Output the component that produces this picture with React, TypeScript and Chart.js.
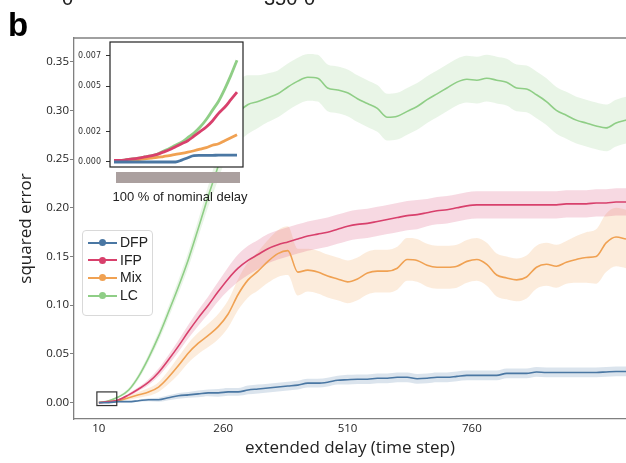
import React, { useEffect, useRef } from "react";
import { Chart, registerables } from "chart.js";

Chart.register(...registerables);

// ---------------- main panel data ----------------
const steps = [10, 30, 50, 70, 90, 110, 130, 150, 170, 190, 210, 230, 250, 270, 290, 310, 330, 350, 370, 390, 410, 430, 450, 470, 490, 510, 530, 550, 570, 590, 610, 630, 650, 670, 690, 710, 730, 750, 770, 790, 810, 830, 850, 870, 890, 910, 930, 950, 970, 990, 1010, 1030, 1050, 1070];

const dfpMean = [0.000, 0.000, 0.001, 0.001, 0.002, 0.003, 0.003, 0.005, 0.007, 0.008, 0.009, 0.010, 0.010, 0.011, 0.011, 0.013, 0.014, 0.015, 0.016, 0.017, 0.018, 0.020, 0.020, 0.021, 0.023, 0.0235, 0.024, 0.024, 0.025, 0.025, 0.026, 0.026, 0.0245, 0.025, 0.026, 0.026, 0.027, 0.028, 0.028, 0.028, 0.028, 0.030, 0.030, 0.030, 0.0315, 0.031, 0.031, 0.031, 0.031, 0.031, 0.031, 0.0315, 0.032, 0.032];
const dfpStd = [0, 0, 0.0005, 0.0008, 0.001, 0.0015, 0.002, 0.0025, 0.003, 0.003, 0.0035, 0.0035, 0.004, 0.004, 0.004, 0.0045, 0.0045, 0.0045, 0.0045, 0.0045, 0.0045, 0.0045, 0.0045, 0.0045, 0.0045, 0.005, 0.005, 0.005, 0.005, 0.005, 0.005, 0.005, 0.005, 0.005, 0.005, 0.005, 0.005, 0.005, 0.005, 0.005, 0.005, 0.005, 0.005, 0.005, 0.005, 0.005, 0.005, 0.005, 0.005, 0.005, 0.005, 0.005, 0.005, 0.005];

const ifpMean = [0.000, 0.001, 0.003, 0.008, 0.014, 0.021, 0.031, 0.044, 0.058, 0.073, 0.087, 0.100, 0.114, 0.127, 0.138, 0.146, 0.152, 0.158, 0.162, 0.165, 0.168, 0.171, 0.173, 0.175, 0.178, 0.181, 0.183, 0.184, 0.186, 0.188, 0.190, 0.192, 0.193, 0.195, 0.197, 0.198, 0.200, 0.202, 0.203, 0.203, 0.203, 0.203, 0.203, 0.203, 0.203, 0.203, 0.203, 0.204, 0.204, 0.204, 0.205, 0.205, 0.206, 0.206];
const ifpStd = [0, 0.0005, 0.001, 0.0015, 0.002, 0.003, 0.004, 0.005, 0.006, 0.007, 0.008, 0.009, 0.010, 0.012, 0.014, 0.015, 0.015, 0.015, 0.015, 0.015, 0.015, 0.015, 0.015, 0.015, 0.015, 0.015, 0.015, 0.015, 0.015, 0.015, 0.015, 0.015, 0.015, 0.014, 0.014, 0.014, 0.014, 0.014, 0.014, 0.014, 0.014, 0.014, 0.014, 0.014, 0.014, 0.014, 0.014, 0.014, 0.014, 0.014, 0.014, 0.014, 0.014, 0.014];

const mixMean = [0.000, 0.001, 0.002, 0.005, 0.008, 0.011, 0.016, 0.026, 0.038, 0.051, 0.061, 0.069, 0.078, 0.091, 0.111, 0.126, 0.135, 0.145, 0.153, 0.156, 0.134, 0.136, 0.134, 0.130, 0.127, 0.124, 0.127, 0.133, 0.135, 0.135, 0.138, 0.147, 0.146, 0.141, 0.139, 0.139, 0.140, 0.145, 0.147, 0.142, 0.131, 0.128, 0.126, 0.129, 0.139, 0.142, 0.140, 0.144, 0.147, 0.149, 0.150, 0.164, 0.170, 0.168];
const mixStd = [0, 0.0005, 0.001, 0.002, 0.003, 0.004, 0.005, 0.007, 0.009, 0.010, 0.011, 0.012, 0.013, 0.014, 0.016, 0.018, 0.020, 0.022, 0.024, 0.025, 0.024, 0.022, 0.022, 0.022, 0.022, 0.022, 0.022, 0.022, 0.022, 0.022, 0.022, 0.022, 0.022, 0.022, 0.022, 0.022, 0.022, 0.022, 0.022, 0.022, 0.022, 0.022, 0.022, 0.022, 0.022, 0.022, 0.022, 0.022, 0.024, 0.026, 0.028, 0.030, 0.030, 0.030];

const lcMean = [0.000, 0.002, 0.006, 0.013, 0.027, 0.046, 0.068, 0.093, 0.119, 0.147, 0.179, 0.212, 0.243, 0.276, 0.297, 0.306, 0.309, 0.313, 0.317, 0.324, 0.330, 0.334, 0.333, 0.323, 0.321, 0.318, 0.312, 0.307, 0.302, 0.293, 0.294, 0.299, 0.304, 0.311, 0.317, 0.323, 0.329, 0.332, 0.331, 0.333, 0.331, 0.329, 0.323, 0.322, 0.316, 0.309, 0.300, 0.295, 0.290, 0.287, 0.284, 0.282, 0.287, 0.290];
const lcStd = [0, 0.0005, 0.001, 0.002, 0.003, 0.004, 0.005, 0.006, 0.007, 0.008, 0.009, 0.011, 0.014, 0.020, 0.030, 0.030, 0.027, 0.025, 0.024, 0.024, 0.024, 0.024, 0.024, 0.024, 0.024, 0.024, 0.024, 0.024, 0.024, 0.024, 0.024, 0.024, 0.024, 0.024, 0.024, 0.024, 0.024, 0.024, 0.024, 0.024, 0.024, 0.024, 0.024, 0.024, 0.024, 0.024, 0.024, 0.024, 0.024, 0.024, 0.024, 0.024, 0.024, 0.024];

const xTicks = [10, 260, 510, 760];
const yTicks = [0, 0.05, 0.1, 0.15, 0.2, 0.25, 0.3, 0.35];

// ---------------- inset data ----------------
const insetSteps = [10, 12, 14, 16, 18, 20, 22, 24, 26, 28, 30, 32, 34, 36, 38, 40, 42, 44, 46, 48, 50];
const insetDfp = [0, 0, 0, 0, 0, 0, 0, 0, 0, 0, 0, 0.00012, 0.00028, 0.00042, 0.00043, 0.00044, 0.00044, 0.00045, 0.00045, 0.00045, 0.00045];
const insetDfpStd = [0, 0, 0, 0, 0, 0, 0, 0, 0, 0, 0.0001, 0.00025, 0.0003, 0.00035, 0.00035, 0.00035, 0.00035, 0.00035, 0.00035, 0.00035, 0.00035];
const insetIfp = [0.0001, 0.0001, 0.00015, 0.0002, 0.00026, 0.00033, 0.0004, 0.0005, 0.00065, 0.0008, 0.001, 0.0012, 0.0014, 0.0017, 0.002, 0.0023, 0.0027, 0.0032, 0.0036, 0.0041, 0.0046];
const insetIfpStd = [0, 0, 0, 0, 0.00002, 0.00003, 0.00004, 0.00005, 0.00006, 0.00007, 0.00008, 0.00009, 0.0001, 0.00011, 0.00012, 0.00013, 0.00015, 0.00017, 0.00019, 0.00021, 0.00023];
const insetMix = [0.00005, 0.00007, 0.0001, 0.00013, 0.00016, 0.0002, 0.00025, 0.0003, 0.00036, 0.00042, 0.0005, 0.00057, 0.00065, 0.00074, 0.00084, 0.00095, 0.0011, 0.0012, 0.0014, 0.0016, 0.0018];
const insetMixStd = [0, 0, 0, 0, 0, 0.00002, 0.00003, 0.00004, 0.00005, 0.00006, 0.00007, 0.00008, 0.00009, 0.0001, 0.00011, 0.00012, 0.00013, 0.00014, 0.00015, 0.00016, 0.00017];
const insetLc = [0.0001, 0.0001, 0.00015, 0.0002, 0.00026, 0.00033, 0.0004, 0.0005, 0.0007, 0.00088, 0.0011, 0.0013, 0.0016, 0.0019, 0.0023, 0.0028, 0.0034, 0.004, 0.0048, 0.0057, 0.0067];
const insetLcStd = [0, 0, 0, 0.00002, 0.00003, 0.00004, 0.00005, 0.00006, 0.00008, 0.0001, 0.00012, 0.00014, 0.00017, 0.0002, 0.00024, 0.00028, 0.00033, 0.0004, 0.00047, 0.00055, 0.00065];
const insetYTicks = [0, 0.002, 0.005, 0.007];
const insetRegionX = [6, 46];
const insetRegionY = [-0.003, 0.011];

const seriesNames = ["DFP", "IFP", "Mix", "LC"];
const lineColors = ["#4a77a3", "#d8406c", "#f0a152", "#8fce86"];
const bandColors = ["rgba(74,119,163,0.2)", "rgba(216,64,108,0.2)", "rgba(240,161,82,0.2)", "rgba(143,206,134,0.2)"];
const abovePanelLabels = ["0", "350", "0"];
const panelLetter = "b";
const insetCaption = "100 % of nominal delay";

const spineColor = "#808080";
const tickColor = "#222";

function buildDatasets(xs: number[], means: number[][], stds: number[][], lineWidth: number) {
  const lines: any[] = means.map((m, i) => ({
    label: seriesNames[i],
    data: xs.map((x, j) => ({ x, y: m[j] })),
    borderColor: lineColors[i],
    borderWidth: lineWidth,
    pointRadius: 0,
    fill: false,
    cubicInterpolationMode: "monotone",
    order: 0,
  }));
  const bands: any[] = [];
  means.forEach((m, i) => {
    const lowerIndex = lines.length + bands.length;
    bands.push({
      label: seriesNames[i] + " low",
      data: xs.map((x, j) => ({ x, y: m[j] - stds[i][j] })),
      borderColor: "rgba(0,0,0,0)",
      borderWidth: 1,
      pointRadius: 0,
      fill: false,
      cubicInterpolationMode: "monotone",
      order: 1,
    });
    bands.push({
      label: seriesNames[i] + " high",
      data: xs.map((x, j) => ({ x, y: m[j] + stds[i][j] })),
      borderColor: "rgba(0,0,0,0)",
      borderWidth: 1,
      pointRadius: 0,
      fill: lowerIndex,
      backgroundColor: bandColors[i],
      cubicInterpolationMode: "monotone",
      order: 1,
    });
  });
  return [...lines, ...bands];
}

const noPad = (scale: any) => {
  scale.paddingTop = 0;
  scale.paddingBottom = 0;
  scale.paddingLeft = 0;
  scale.paddingRight = 0;
};

const mainDecor = {
  id: "mainDecor",
  afterDraw(chart: any) {
    const { ctx, chartArea, scales } = chart;
    ctx.save();
    ctx.strokeStyle = spineColor;
    ctx.lineWidth = 1.3;
    ctx.beginPath();
    ctx.moveTo(chartArea.left, chartArea.top);
    ctx.lineTo(chartArea.right, chartArea.top);
    ctx.stroke();

    const x0 = scales.x.getPixelForValue(insetRegionX[0]);
    const x1 = scales.x.getPixelForValue(insetRegionX[1]);
    const y0 = scales.y.getPixelForValue(insetRegionY[1]);
    const y1 = scales.y.getPixelForValue(insetRegionY[0]);
    ctx.strokeStyle = "#333";
    ctx.lineWidth = 1.2;
    ctx.strokeRect(x0, y0, x1 - x0, y1 - y0);

    ctx.fillStyle = "#000";
    ctx.textBaseline = "alphabetic";
    ctx.textAlign = "left";
    ctx.font = 'bold 33px "Liberation Sans"';
    ctx.fillText(panelLetter, 8, 36);

    ctx.fillStyle = "#222";
    ctx.font = '20px "Liberation Sans"';
    ctx.fillText(abovePanelLabels[0], 62, 5);
    ctx.fillText(abovePanelLabels[1], 264, 5);
    ctx.fillText(abovePanelLabels[2], 304, 5);
    ctx.restore();
  },
};

const insetDecor = {
  id: "insetDecor",
  beforeDatasetsDraw(chart: any) {
    const { ctx, chartArea } = chart;
    ctx.save();
    ctx.fillStyle = "#fff";
    ctx.fillRect(chartArea.left, chartArea.top, chartArea.right - chartArea.left, chartArea.bottom - chartArea.top);
    ctx.restore();
  },
  afterDraw(chart: any) {
    const { ctx, chartArea } = chart;
    ctx.save();
    ctx.strokeStyle = "#222";
    ctx.lineWidth = 1.2;
    ctx.strokeRect(chartArea.left, chartArea.top, chartArea.right - chartArea.left, chartArea.bottom - chartArea.top);
    ctx.restore();
  },
};

export default function App() {
  const mainRef = useRef<HTMLCanvasElement>(null);
  const insetRef = useRef<HTMLCanvasElement>(null);

  useEffect(() => {
    const main = new Chart(mainRef.current as HTMLCanvasElement, {
      type: "line",
      data: { datasets: buildDatasets(steps, [dfpMean, ifpMean, mixMean, lcMean], [dfpStd, ifpStd, mixStd, lcStd], 1.6) },
      options: {
        responsive: false,
        animation: false,
        events: [],
        layout: { padding: { top: 38, right: 0, bottom: 0, left: 0 } },
        plugins: {
          legend: { display: false },
          tooltip: { enabled: false },
          filler: { drawTime: "beforeDatasetsDraw" },
        },
        scales: {
          x: {
            type: "linear",
            min: -40,
            max: 1070,
            afterBuildTicks: (s: any) => { s.ticks = xTicks.map((v) => ({ value: v })); },
            afterFit: (s: any) => { s.height = 44; noPad(s); },
            grid: { drawOnChartArea: false, drawTicks: false },
            border: { display: true, color: spineColor, width: 1.3 },
            ticks: {
              autoSkip: false,
              maxRotation: 0,
              padding: 3,
              color: tickColor,
              font: { family: "Open Sans", size: 11.5 },
              callback: (v: any) => String(v),
            },
            title: {
              display: true,
              text: "extended delay (time step)",
              color: "#222",
              font: { family: "Open Sans", size: 17 },
              padding: { top: 0, bottom: 5 },
            },
          },
          y: {
            type: "linear",
            min: -0.0168,
            max: 0.3743,
            afterBuildTicks: (s: any) => { s.ticks = yTicks.map((v) => ({ value: v })); },
            afterFit: (s: any) => { s.width = 74; noPad(s); },
            grid: { drawOnChartArea: false, drawTicks: true, tickLength: 4, color: spineColor },
            border: { display: true, color: spineColor, width: 1.3 },
            ticks: {
              autoSkip: false,
              padding: 1,
              color: tickColor,
              font: { family: "Open Sans", size: 11.5 },
              callback: (v: any) => Number(v).toFixed(2),
            },
            title: {
              display: true,
              text: "squared error",
              color: "#222",
              font: { family: "Open Sans", size: 17 },
              padding: { top: 16, bottom: 0 },
            },
          },
        },
      } as any,
      plugins: [mainDecor],
    });

    const inset = new Chart(insetRef.current as HTMLCanvasElement, {
      type: "line",
      data: { datasets: buildDatasets(insetSteps, [insetDfp, insetIfp, insetMix, insetLc], [insetDfpStd, insetIfpStd, insetMixStd, insetLcStd], 2.8) },
      options: {
        responsive: false,
        animation: false,
        events: [],
        layout: { padding: { top: 6, right: 7, bottom: 5, left: 0 } },
        plugins: {
          legend: { display: false },
          tooltip: { enabled: false },
          filler: { drawTime: "beforeDatasetsDraw" },
        },
        scales: {
          x: { type: "linear", min: 8.7, max: 51.95, display: false },
          y: {
            type: "linear",
            min: -0.00033,
            max: 0.0079,
            afterBuildTicks: (s: any) => { s.ticks = insetYTicks.map((v) => ({ value: v })); },
            afterFit: (s: any) => { s.width = 40; noPad(s); },
            grid: { drawOnChartArea: false, drawTicks: true, tickLength: 4, color: "#333" },
            border: { display: false },
            ticks: {
              autoSkip: false,
              padding: 5,
              color: "#333",
              font: { family: "DejaVu Sans", size: 8 },
              callback: (v: any) => Number(v).toFixed(3),
            },
          },
        },
      } as any,
      plugins: [insetDecor],
    });

    return () => {
      main.destroy();
      inset.destroy();
    };
  }, []);

  return (
    <div style={{ position: "fixed", left: 0, top: 0, width: 626, height: 463, overflow: "hidden", background: "#fff" }}>
      <canvas ref={mainRef} width={626} height={463} style={{ position: "absolute", left: 0, top: 0 }} />
      <canvas ref={insetRef} width={180} height={136} style={{ position: "absolute", left: 70, top: 36, zIndex: 1 }} />
      <div style={{ position: "absolute", left: 116, top: 172, width: 124, height: 11, background: "#aba09f", zIndex: 1 }} />
      <div
        style={{
          position: "absolute",
          left: 80,
          width: 200,
          top: 189,
          textAlign: "center",
          fontFamily: "Liberation Sans",
          fontSize: 13,
          lineHeight: "15px",
          color: "#222",
          zIndex: 1,
          whiteSpace: "nowrap",
        }}
      >
        {insetCaption}
      </div>
      <div
        style={{
          position: "absolute",
          left: 82,
          top: 230,
          width: 71,
          height: 86,
          boxSizing: "border-box",
          border: "1px solid #d9d9d9",
          borderRadius: 4,
          background: "rgba(255,255,255,0.8)",
          zIndex: 2,
        }}
      >
        {seriesNames.map((n, i) => (
          <div key={n} style={{ position: "absolute", left: 5, top: 3 + i * 17.7, height: 17, width: 64, display: "flex", alignItems: "center" }}>
            <div style={{ position: "relative", width: 29, height: 17, flex: "none" }}>
              <div style={{ position: "absolute", left: 0, top: 7.5, width: 29, height: 2, background: lineColors[i] }} />
              <div style={{ position: "absolute", left: 11, top: 5, width: 7, height: 7, borderRadius: "50%", background: lineColors[i] }} />
            </div>
            <span style={{ marginLeft: 3, fontFamily: "Liberation Sans", fontSize: 14, lineHeight: "17px", color: "#222" }}>{n}</span>
          </div>
        ))}
      </div>
    </div>
  );
}
